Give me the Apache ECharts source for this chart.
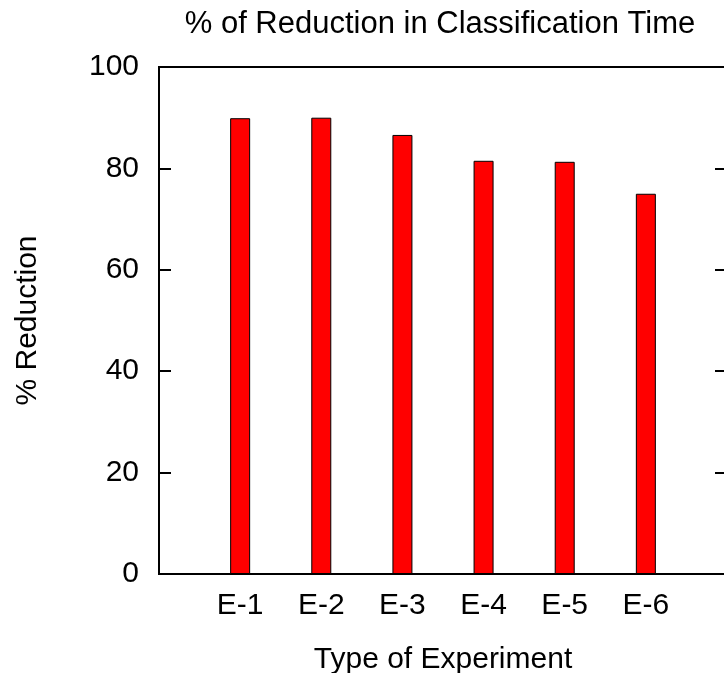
<!DOCTYPE html>
<html>
<head>
<meta charset="utf-8">
<script src="https://cdn.jsdelivr.net/npm/echarts@6/dist/echarts.min.js"></script>
<style>
  html, body { margin: 0; padding: 0; background: #fff; }
  #chart { width: 724px; height: 673px; }
</style>
</head>
<body>
<div id="chart"></div>
<script>
// Experiment names and the measured reduction (%) for each one
const experiments = ['E-1', 'E-2', 'E-3', 'E-4', 'E-5', 'E-6'];
const reduction = [89.9, 90.0, 86.6, 81.5, 81.3, 75.0];
const yTicks = [0, 20, 40, 60, 80, 100];

// One empty slot on each side so the bars sit away from the frame
const xSlots = [''].concat(experiments, ['']);
const barData = [null].concat(reduction, [null]);

const FONT = "'Liberation Sans', Arial, Helvetica, sans-serif";

const chart = echarts.init(document.getElementById('chart'), null, { renderer: 'canvas' });

chart.setOption({
  animation: false,
  backgroundColor: '#fff',
  title: {
    text: '% of Reduction in Classification Time',
    left: 435,
    textAlign: 'center',
    top: 4,
    textStyle: { fontFamily: FONT, fontSize: 31, fontWeight: 'normal', color: '#000' }
  },
  grid: {
    left: 159, top: 67, right: -3, bottom: 99,
    outerBoundsMode: 'none',
    containLabel: false,
    show: true, borderColor: '#000', borderWidth: 2, backgroundColor: 'transparent'
  },
  xAxis: {
    type: 'category',
    data: xSlots,
    boundaryGap: false,
    name: 'Type of Experiment',
    nameLocation: 'middle',
    nameGap: 71,
    nameTextStyle: { fontFamily: FONT, fontSize: 30, color: '#000' },
    axisLine: { show: false },
    axisTick: { show: false },
    axisLabel: { interval: 0, margin: 17, fontFamily: FONT, fontSize: 30, color: '#000' },
    splitLine: { show: false }
  },
  yAxis: [
    {
      type: 'value',
      min: yTicks[0], max: yTicks[yTicks.length - 1], interval: 20,
      name: '% Reduction',
      nameLocation: 'middle',
      nameGap: 116,
      nameTextStyle: { fontFamily: FONT, fontSize: 30, color: '#000' },
      axisLine: { show: false },
      axisTick: { show: true, inside: true, length: 12, lineStyle: { color: '#000', width: 2 } },
      axisLabel: { margin: 20, fontFamily: FONT, fontSize: 30, color: '#000' },
      splitLine: { show: false }
    },
    {
      type: 'value',
      position: 'right',
      min: yTicks[0], max: yTicks[yTicks.length - 1], interval: 20,
      axisLine: { show: false },
      axisTick: { show: true, inside: true, length: 12, lineStyle: { color: '#000', width: 2 } },
      axisLabel: { show: false },
      splitLine: { show: false }
    }
  ],
  series: [{
    type: 'bar',
    data: barData,
    barWidth: 20,
    itemStyle: { color: '#ff0000', borderColor: '#000', borderWidth: 1 }
  }]
});
</script>
</body>
</html>
